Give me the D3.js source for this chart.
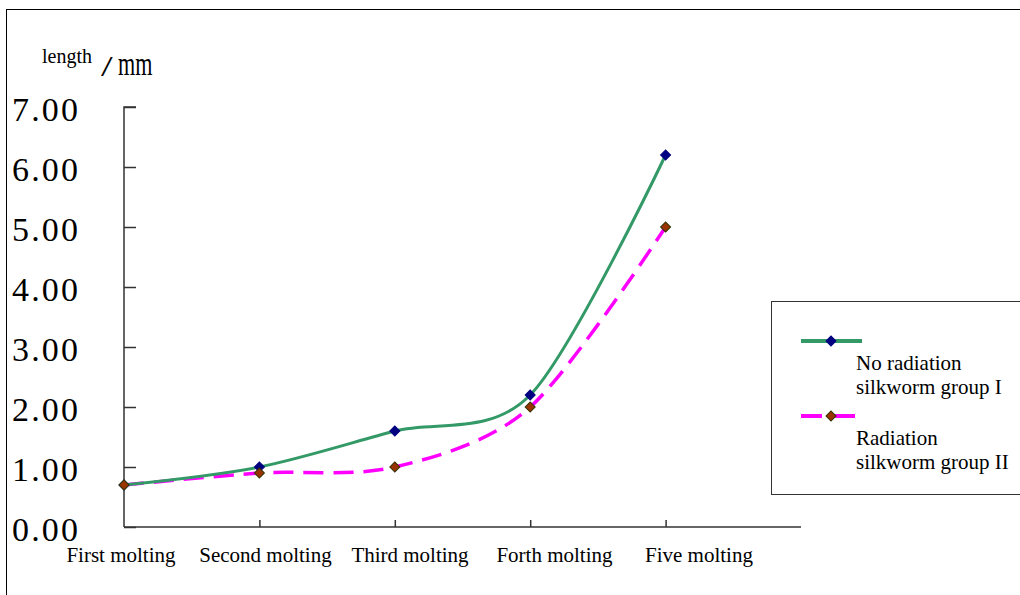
<!DOCTYPE html>
<html>
<head>
<meta charset="utf-8">
<script src="https://cdn.jsdelivr.net/npm/d3@7"></script>
<style>
  body { margin: 0; background: #fff; }
  text { font-family: "Liberation Serif", "Times New Roman", serif; fill: #000; }
</style>
</head>
<body>
<div id="chart"></div>
<script>

const categories = ["First molting", "Second molting", "Third molting", "Forth molting", "Five molting"] ;
const groupOne = [0.70, 1.00, 1.60, 2.20, 6.20] ;
const groupTwo = [0.70, 0.90, 1.00, 2.00, 5.00] ;
const yTicks = [0, 1, 2, 3, 4, 5, 6, 7] ;
const seriesNames = [ ["No radiation", "silkworm group I"], ["Radiation", "silkworm group II"] ] ;

const width = 1020 ;
const height = 595 ;

const svg = d3.select("#chart").append("svg")
	.attr("width", width)
	.attr("height", height) ;

// outer frame (runs off right and bottom edges)
svg.append("rect")
	.attr("x", 6.5).attr("y", 9.5)
	.attr("width", 1100).attr("height", 700)
	.attr("fill", "none").attr("stroke", "#000").attr("stroke-width", 1) ;

const x = d3.scaleLinear().domain([0, 5]).range([124, 801]) ;
const y = d3.scaleLinear().domain([0, 7]).range([527, 107]) ;
const xLabel = d3.scalePoint().domain(categories).range([121, 699]) ;

// y axis
const yAxis = svg.append("g")
	.attr("transform", "translate(124,0)")
	.call( d3.axisRight(y).tickValues(yTicks).tickSize(12).tickFormat("") ) ;
yAxis.select(".domain").attr("d", "M12," + y(7) + "H0V" + y(0) ) ;
yAxis.selectAll("line, path").attr("stroke", "#333").attr("stroke-width", 1.5) ;

svg.selectAll("text.ytick")
	.data( yTicks )
	.enter()
		.append("text")
			.attr("class", "ytick")
			.attr("x", 12)
			.attr("y", function(d) { return y(d) + 14 ; })
			.attr("font-size", 34)
			.attr("textLength", 66)
			.attr("lengthAdjust", "spacing")
			.text( function(d) { return d.toFixed(2) ; } ) ;

// x axis
const xAxis = svg.append("g")
	.attr("transform", "translate(0,527)")
	.call( d3.axisTop(x).tickValues([1, 2, 3, 4]).tickSize(7).tickFormat("") ) ;
xAxis.select(".domain").attr("d", "M" + x(0) + ",0H" + x(5) ) ;
xAxis.selectAll("line, path").attr("stroke", "#333").attr("stroke-width", 1.5) ;

svg.selectAll("text.xcat")
	.data( categories )
	.enter()
		.append("text")
			.attr("class", "xcat")
			.attr("x", function(d) { return xLabel(d) ; })
			.attr("y", 562)
			.attr("text-anchor", "middle")
			.attr("font-size", 21)
			.text( function(d) { return d ; } ) ;

// axis title
svg.append("text")
	.attr("x", 42).attr("y", 63)
	.attr("font-size", 20)
	.text("length") ;
svg.append("text")
	.attr("transform", "translate(101,76) scale(1.4,1)")
	.attr("font-size", 30)
	.text("/") ;
svg.append("text")
	.attr("transform", "translate(118,75) scale(0.65,1)")
	.attr("font-size", 34)
	.text("mm") ;

// lines
const line = d3.line()
	.x( function(d, i) { return x(i) ; } )
	.y( function(d) { return y(d) ; } )
	.curve( d3.curveCardinal.tension(0.1) ) ;

const series = [
	{ values: groupOne, stroke: "#339966", dash: null, width: 3, fill: "#000080", mstroke: "#000080" },
	{ values: groupTwo, stroke: "#ff00ff", dash: "20,10", width: 3.5, fill: "#993300", mstroke: "#333300" }
] ;

const diamond = d3.symbol().type(d3.symbolSquare).size(50) ;

series.slice().reverse().forEach( function(s) {
	svg.append("path")
		.attr("d", line( s.values ))
		.attr("fill", "none")
		.attr("stroke", s.stroke)
		.attr("stroke-width", s.width)
		.attr("stroke-dasharray", s.dash) ;
}) ;

series.forEach( function(s) {
	svg.selectAll(null)
		.data( s.values )
		.enter()
			.append("path")
				.attr("d", diamond)
				.attr("transform", function(d, i) { return "translate(" + x(i) + "," + y(d) + ") rotate(45)" ; })
				.attr("fill", s.fill)
				.attr("stroke", s.mstroke)
				.attr("stroke-width", 1) ;
}) ;

// legend
svg.append("rect")
	.attr("x", 771.5).attr("y", 301.5)
	.attr("width", 300).attr("height", 193)
	.attr("fill", "#fff").attr("stroke", "#333").attr("stroke-width", 1) ;

series.forEach( function(s, i) {
	const ly = 341 + i * 75 ;
	svg.append("line")
		.attr("x1", 801).attr("x2", i === 0 ? 862 : 855)
		.attr("y1", ly).attr("y2", ly)
		.attr("stroke", s.stroke)
		.attr("stroke-width", 4)
		.attr("stroke-dasharray", i === 0 ? null : "21,13") ;
	svg.append("path")
		.attr("d", diamond)
		.attr("transform", "translate(831," + ly + ") rotate(45)")
		.attr("fill", s.fill)
		.attr("stroke", s.mstroke) ;
	seriesNames[i].forEach( function(t, j) {
		svg.append("text")
			.attr("x", 856)
			.attr("y", ly + 29 + j * 24)
			.attr("font-size", 21)
			.text( t ) ;
	}) ;
}) ;

</script>
</body>
</html>
